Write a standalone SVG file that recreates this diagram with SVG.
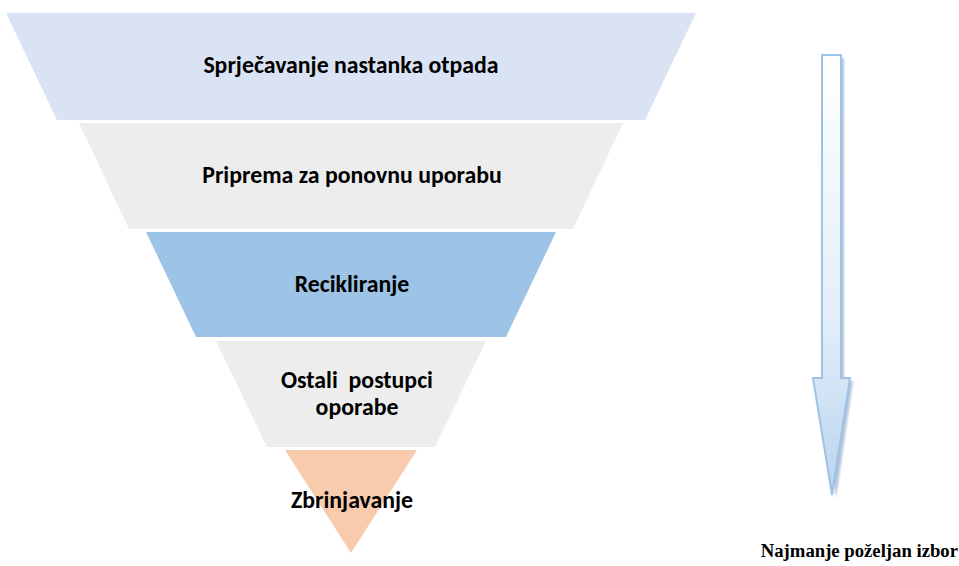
<svg xmlns="http://www.w3.org/2000/svg" width="959" height="566" viewBox="0 0 959 566">
<style>
.lbl{font-family:Carlito,"Open Sans","Liberation Sans",sans-serif;font-weight:bold;font-size:23.8px;fill:#000;text-anchor:middle}
.cap{font-family:"Liberation Serif","Times New Roman",serif;font-weight:bold;font-size:18.7px;fill:#000;text-anchor:end}
</style>
<defs>
<linearGradient id="ag" x1="0" y1="0" x2="0" y2="1">
<stop offset="0" stop-color="#FFFFFF"/>
<stop offset="0.6" stop-color="#E3EEF9"/>
<stop offset="1" stop-color="#B9D4EE"/>
</linearGradient>
<filter id="blur" x="-20%" y="-5%" width="140%" height="110%"><feGaussianBlur stdDeviation="1"/></filter>
</defs>
<rect width="959" height="566" fill="#fff"/>
<g id="level1"><polygon points="6,13 696,13 645,120 57,120" fill="#DAE3F3"/><text class="lbl" x="351" y="73">Sprječavanje nastanka otpada</text></g>
<g id="level2"><polygon points="79,123 623,123 573,229 129,229" fill="#EDEDED"/><text class="lbl" x="352" y="183">Priprema za ponovnu uporabu</text></g>
<g id="level3"><polygon points="146,232 556,232 506,337 196,337" fill="#9DC3E6"/><text class="lbl" x="352" y="292">Recikliranje</text></g>
<g id="level4"><polygon points="216,341 486,341 435,447 267,447" fill="#EDEDED"/><text class="lbl" x="357" y="388" font-size="23px" xml:space="preserve">Ostali  postupci</text><text class="lbl" x="357" y="415" font-size="23px">oporabe</text></g>
<g id="level5"><polygon points="285,450 417,450 351,553" fill="#F8CBAD"/><text class="lbl" x="352" y="508">Zbrinjavanje</text></g>
<g id="arrow">
<path d="M825,58 L844,58 L844,381 L853,381 L836,498 L816,381 L825,381 Z" fill="#7F9DBF" opacity="0.6" filter="url(#blur)"/>
<path d="M822,55 L841,55 L841,378 L850,378 L832,495 L813,378 L822,378 Z" fill="url(#ag)" stroke="#9DC3E6" stroke-width="2" stroke-linejoin="miter"/>
</g>
<g id="caption"><text class="cap" x="958" y="557">Najmanje poželjan izbor</text></g>
</svg>
